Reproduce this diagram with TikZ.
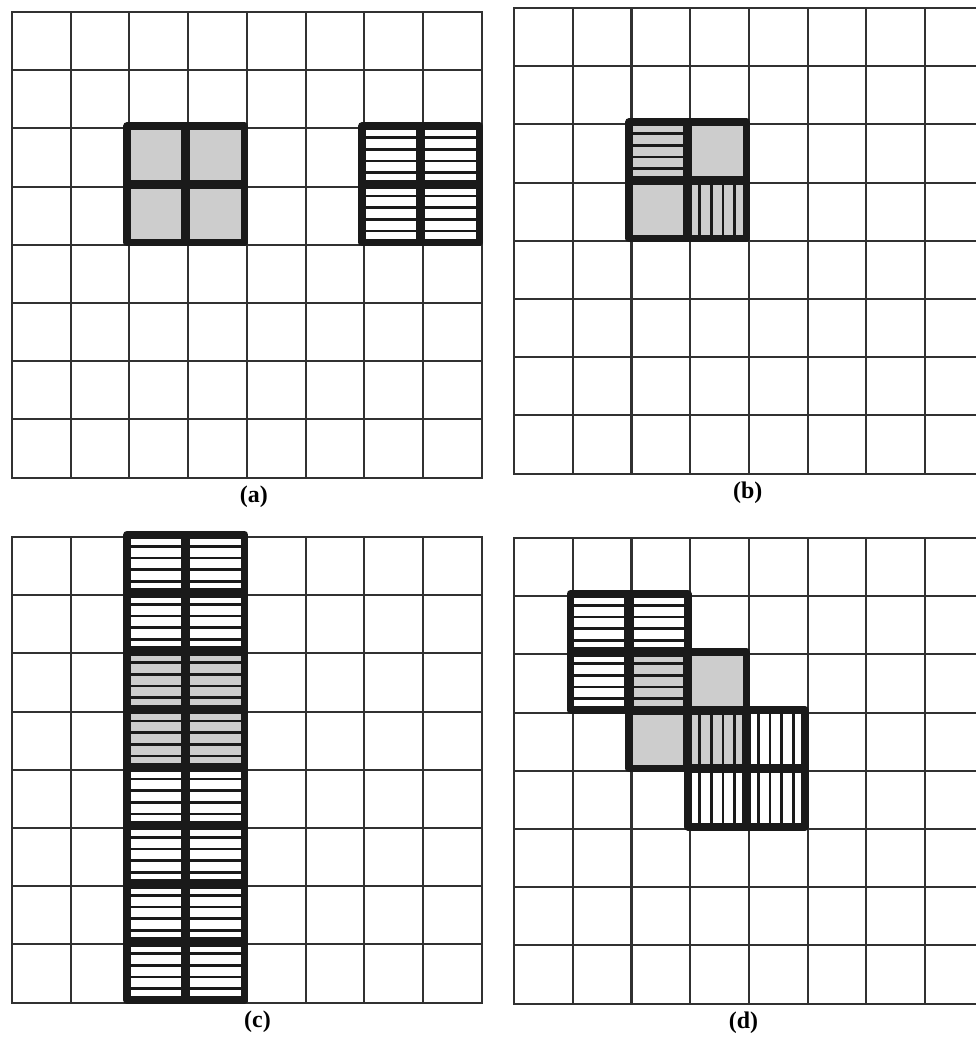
\documentclass[tikz,border=0pt]{standalone}
\usepackage{fontspec}
\setmainfont{Liberation Serif}

\definecolor{cellgray}{RGB}{205,205,205}
\definecolor{inkdark}{RGB}{26,26,26}

\tikzset{
  gridline/.style={draw=inkdark!90, line width=1.5pt, line cap=rect},
  frameline/.style={draw=inkdark, line width=5.5pt, line join=round},
  innerline/.style={draw=inkdark, line width=6.6pt},
  hatchline/.style={draw=inkdark, line width=1.9pt},
  blockshift/.style={shift={(-0.04,-0.04)}},
  panellabel/.style={font=\fontsize{17}{20}\selectfont\bfseries}
}

% 8x8 board of one panel
\newcommand{\cellgrid}{%
  \foreach \gl in {0,...,8} {\draw[gridline] (\gl,0) -- (\gl,8); \draw[gridline] (0,\gl) -- (8,\gl);}}
% one cell: gray, striped across, striped down
\newcommand{\grayfill}[2]{\fill[cellgray] (#1,#2) rectangle ++(1,1);}
\newcommand{\hhatch}[2]{\foreach \hk in {1,...,4} {\draw[hatchline] (#1,#2+\hk/5) -- (#1+1,#2+\hk/5);}}
\newcommand{\vhatch}[2]{\foreach \hk in {1,...,4} {\draw[hatchline] (#1+\hk/5,#2) -- (#1+\hk/5,#2+1);}}
% thick frame round a 2x2 block
\newcommand{\blockframe}[2]{%
  \draw[innerline] (#1+1,#2) -- (#1+1,#2+2) (#1,#2+1) -- (#1+2,#2+1);
  \draw[frameline] (#1,#2) rectangle ++(2,2);}

\begin{document}
\begin{tikzpicture}[x=1.468cm,y=-1.455cm]
\useasboundingbox (0cm,0cm) rectangle (24.4cm,-26cm);
\clip (0cm,0cm) rectangle (24.4cm,-26cm);

% (a)
\begin{scope}[shift={(0.3cm,-0.3cm)}]
\cellgrid
\begin{scope}[blockshift]
\grayfill{2}{2} \grayfill{3}{2} \grayfill{2}{3} \grayfill{3}{3}
\blockframe{2}{2}
\hhatch{6}{2} \hhatch{7}{2} \hhatch{6}{3} \hhatch{7}{3}
\blockframe{6}{2}
\end{scope}
\node[panellabel] (lbla) at (4.12,8.33) {(a)};
\end{scope}

% (b)
\begin{scope}[shift={(12.85cm,-0.2cm)}]
\cellgrid
\begin{scope}[blockshift]
\grayfill{2}{2} \grayfill{3}{2} \grayfill{2}{3} \grayfill{3}{3}
\hhatch{2}{2}
\vhatch{3}{3}
\blockframe{2}{2}
\end{scope}
\node[panellabel] (lblb) at (3.98,8.33) {(b)};
\end{scope}

% (c)
\begin{scope}[shift={(0.3cm,-13.425cm)}]
\cellgrid
\begin{scope}[blockshift]
\fill[cellgray] (2,2) rectangle (4,4);
\foreach \rw in {0,...,7} {\hhatch{2}{\rw} \hhatch{3}{\rw}}
\draw[innerline] (3,0) -- (3,8);
\foreach \rw in {1,...,7} {\draw[innerline] (2,\rw) -- (4,\rw);}
\draw[frameline] (2,0) rectangle (4,8);
\end{scope}
\node[panellabel] (lblc) at (4.18,8.33) {(c)};
\end{scope}

% (d)
\begin{scope}[shift={(12.85cm,-13.45cm)}]
\cellgrid
\begin{scope}[blockshift]
\grayfill{2}{2} \grayfill{3}{2} \grayfill{2}{3} \grayfill{3}{3}
\hhatch{1}{1} \hhatch{2}{1} \hhatch{1}{2} \hhatch{2}{2}
\vhatch{3}{3} \vhatch{4}{3} \vhatch{3}{4} \vhatch{4}{4}
\blockframe{1}{1}
\blockframe{2}{2}
\blockframe{3}{3}
\end{scope}
\node[panellabel] (lbld) at (3.91,8.33) {(d)};
\end{scope}
\end{tikzpicture}
\end{document}
